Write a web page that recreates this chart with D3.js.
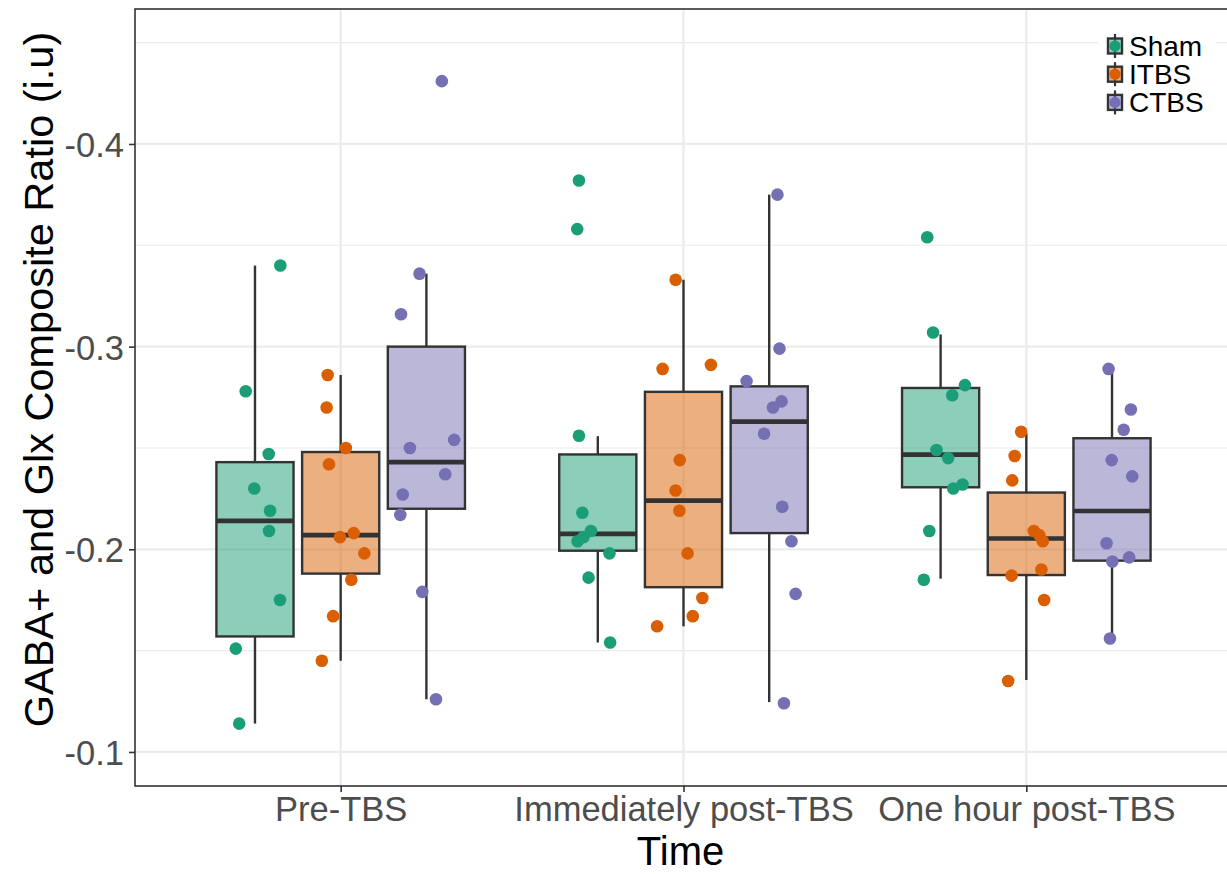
<!DOCTYPE html>
<html><head><meta charset="utf-8">
<script src="https://cdn.jsdelivr.net/npm/d3@7"></script>
<style>body{margin:0;background:#fff}svg{display:block}</style>
</head><body>
<svg id="chart" width="1227" height="874"></svg>
<script>
// ---- data ----
const categories = ["Pre-TBS", "Immediately post-TBS", "One hour post-TBS"];
const groups = ["Sham", "ITBS", "CTBS"];
const groupColors = ["#1B9E77", "#D95F02", "#7570B3"];
const yTickValues = [-0.4, -0.3, -0.2, -0.1];
const yTickLabels = ["-0.4", "-0.3", "-0.2", "-0.1"];
const yMinorValues = [-0.45, -0.35, -0.25, -0.15];

// box statistics per group, one entry per category
const shamWhiskerLow  = [-0.114, -0.154, -0.1855];
const shamQ1          = [-0.157, -0.1993, -0.2306];
const shamMedian      = [-0.214, -0.2076, -0.2467];
const shamQ3          = [-0.243, -0.2468, -0.2796];
const shamWhiskerHigh = [-0.340, -0.2558, -0.306];

const itbsWhiskerLow  = [-0.145, -0.162, -0.1355];
const itbsQ1          = [-0.188, -0.1813, -0.1873];
const itbsMedian      = [-0.207, -0.224, -0.2053];
const itbsQ3          = [-0.248, -0.2777, -0.228];
const itbsWhiskerHigh = [-0.286, -0.333, -0.2572];

const ctbsWhiskerLow  = [-0.126, -0.1246, -0.1559];
const ctbsQ1          = [-0.220, -0.208, -0.1944];
const ctbsMedian      = [-0.243, -0.263, -0.2189];
const ctbsQ3          = [-0.300, -0.2804, -0.2548];
const ctbsWhiskerHigh = [-0.336, -0.375, -0.2885];

// individual observations (value) and horizontal jitter (in category units)
const shamValues = [
  [-0.340, -0.278, -0.247, -0.230, -0.219, -0.209, -0.175, -0.151, -0.114],
  [-0.382, -0.358, -0.256, -0.218, -0.209, -0.206, -0.204, -0.198, -0.186, -0.154],
  [-0.354, -0.307, -0.281, -0.276, -0.249, -0.245, -0.232, -0.230, -0.209, -0.185]
];
const shamJitter = [
  [0.074, -0.027, 0.040, -0.002, 0.044, 0.041, 0.073, -0.056, -0.046],
  [-0.055, -0.060, -0.055, -0.045, -0.020, -0.042, -0.059, 0.034, -0.027, 0.036],
  [-0.039, -0.022, 0.071, 0.034, -0.012, 0.022, 0.064, 0.037, -0.033, -0.049]
];
const itbsValues = [
  [-0.286, -0.270, -0.250, -0.242, -0.208, -0.206, -0.198, -0.185, -0.167, -0.145],
  [-0.333, -0.289, -0.291, -0.244, -0.229, -0.219, -0.198, -0.176, -0.167, -0.162],
  [-0.258, -0.246, -0.234, -0.209, -0.207, -0.204, -0.190, -0.187, -0.175, -0.135]
];
const itbsJitter = [
  [-0.038, -0.041, 0.015, -0.034, 0.038, -0.002, 0.069, 0.031, -0.022, -0.055],
  [-0.023, -0.061, 0.080, -0.011, -0.023, -0.012, 0.012, 0.055, 0.027, -0.077],
  [-0.015, -0.034, -0.041, 0.022, 0.038, 0.048, 0.044, -0.043, 0.052, -0.053]
];
const ctbsValues = [
  [-0.431, -0.336, -0.316, -0.254, -0.250, -0.237, -0.227, -0.217, -0.179, -0.126],
  [-0.375, -0.299, -0.283, -0.273, -0.270, -0.257, -0.221, -0.204, -0.178, -0.124],
  [-0.289, -0.269, -0.259, -0.244, -0.236, -0.203, -0.196, -0.194, -0.156]
];
const ctbsJitter = [
  [0.045, -0.020, -0.074, 0.081, -0.048, 0.055, -0.069, -0.076, -0.012, 0.028],
  [0.024, 0.030, -0.066, 0.036, 0.011, -0.015, 0.038, 0.065, 0.077, 0.043],
  [-0.010, 0.055, 0.034, -0.001, 0.059, -0.016, 0.050, 0.001, -0.006]
];

// ---- build tables ----
const boxStats = [
  [shamWhiskerLow, shamQ1, shamMedian, shamQ3, shamWhiskerHigh],
  [itbsWhiskerLow, itbsQ1, itbsMedian, itbsQ3, itbsWhiskerHigh],
  [ctbsWhiskerLow, ctbsQ1, ctbsMedian, ctbsQ3, ctbsWhiskerHigh]
];
const allValues = [shamValues, itbsValues, ctbsValues];
const allJitter = [shamJitter, itbsJitter, ctbsJitter];

const boxes = [];
const points = [];
groups.forEach((g, gi) => {
  categories.forEach((c, ci) => {
    const s = boxStats[gi];
    boxes.push({group: g, gi, cat: c, lo: s[0][ci], q1: s[1][ci], med: s[2][ci], q3: s[3][ci], hi: s[4][ci]});
    allValues[gi][ci].forEach((v, k) => {
      points.push({group: g, gi, cat: c, value: v, jitter: allJitter[gi][ci][k]});
    });
  });
});

// ---- layout ----
const panel = {left: 135, top: 9, right: 1232, bottom: 786};
const FONT = "'Liberation Sans', Arial, Helvetica, sans-serif";
const ink = "#333333";

const svg = d3.select("#chart");

const x = d3.scalePoint().domain(categories).range([panel.left, panel.right]).padding(0.6);
const step = x.step();
const xg = d3.scaleBand().domain(groups).range([-0.375 * step, 0.375 * step]);
const boxW = xg.bandwidth() * 0.9;
const y = d3.scaleLinear().domain([-0.0832, -0.4666]).range([panel.bottom, panel.top]);
const color = d3.scaleOrdinal().domain(groups).range(groupColors);

// grid
const grid = svg.append("g");
grid.selectAll("line.minor").data(yMinorValues).join("line")
  .attr("x1", panel.left).attr("x2", panel.right)
  .attr("y1", d => y(d)).attr("y2", d => y(d))
  .attr("stroke", "#ebebeb").attr("stroke-width", 1.1);
grid.selectAll("line.major").data(yTickValues).join("line")
  .attr("x1", panel.left).attr("x2", panel.right)
  .attr("y1", d => y(d)).attr("y2", d => y(d))
  .attr("stroke", "#ebebeb").attr("stroke-width", 2.2);
grid.selectAll("line.vmajor").data(categories).join("line")
  .attr("x1", d => x(d)).attr("x2", d => x(d))
  .attr("y1", panel.top).attr("y2", panel.bottom)
  .attr("stroke", "#ebebeb").attr("stroke-width", 2.2);

// boxes
const bx = d => x(d.cat) + xg(d.group) + xg.bandwidth() / 2;
const bg = svg.append("g");
const bsel = bg.selectAll("g.box").data(boxes).join("g");
bsel.append("line")
  .attr("x1", bx).attr("x2", bx)
  .attr("y1", d => y(d.hi)).attr("y2", d => y(d.q3))
  .attr("stroke", ink).attr("stroke-width", 2.4);
bsel.append("line")
  .attr("x1", bx).attr("x2", bx)
  .attr("y1", d => y(d.q1)).attr("y2", d => y(d.lo))
  .attr("stroke", ink).attr("stroke-width", 2.4);
bsel.append("rect")
  .attr("x", d => bx(d) - boxW / 2).attr("width", boxW)
  .attr("y", d => y(d.q3)).attr("height", d => y(d.q1) - y(d.q3))
  .attr("fill", d => color(d.group)).attr("fill-opacity", 0.5)
  .attr("stroke", ink).attr("stroke-width", 2.4);
bsel.append("line")
  .attr("x1", d => bx(d) - boxW / 2).attr("x2", d => bx(d) + boxW / 2)
  .attr("y1", d => y(d.med)).attr("y2", d => y(d.med))
  .attr("stroke", ink).attr("stroke-width", 4.6);

// points
svg.append("g").selectAll("circle").data(points).join("circle")
  .attr("cx", d => x(d.cat) + xg(d.group) + xg.bandwidth() / 2 + d.jitter * step)
  .attr("cy", d => y(d.value))
  .attr("r", 6.3)
  .attr("fill", d => color(d.group));

// panel border
svg.append("rect")
  .attr("x", panel.left).attr("y", panel.top)
  .attr("width", panel.right - panel.left).attr("height", panel.bottom - panel.top)
  .attr("fill", "none").attr("stroke", ink).attr("stroke-width", 1.6);

// y axis
const yAxis = svg.append("g").attr("transform", `translate(${panel.left},0)`)
  .call(d3.axisLeft(y).tickValues(yTickValues).tickFormat((d, i) => yTickLabels[i]).tickSize(6).tickPadding(5));
yAxis.select(".domain").remove();
yAxis.selectAll(".tick line").attr("stroke", ink).attr("stroke-width", 1.6);
yAxis.selectAll(".tick text").attr("fill", "#4d4d4d").attr("font-size", 34.5).attr("font-family", FONT)
  .attr("dy", "0.36em");

// x axis
const xAxis = svg.append("g").attr("transform", `translate(0,${panel.bottom})`)
  .call(d3.axisBottom(x).tickSize(6).tickPadding(3));
xAxis.select(".domain").remove();
xAxis.selectAll(".tick line").attr("stroke", ink).attr("stroke-width", 1.6);
xAxis.selectAll(".tick text").attr("fill", "#4d4d4d").attr("font-size", 34.5).attr("font-family", FONT)
  .attr("dy", "0.76em");

// axis titles
svg.append("text").attr("x", (panel.left + panel.right) / 2 - 3).attr("y", 865)
  .attr("text-anchor", "middle").attr("font-size", 40).attr("font-family", FONT).attr("fill", "#000")
  .text("Time");
svg.append("text")
  .attr("transform", `translate(53,${(panel.top + panel.bottom) / 2 - 18}) rotate(-90)`)
  .attr("text-anchor", "middle").attr("font-size", 41.5).attr("font-family", FONT).attr("fill", "#000")
  .text("GABA+ and Glx Composite Ratio (i.u)");

// legend
const leg = svg.append("g");
leg.append("rect").attr("x", 1098).attr("y", 28).attr("width", 118).attr("height", 92).attr("fill", "#fff");
const rows = leg.selectAll("g.row").data(groups).join("g")
  .attr("transform", (d, i) => `translate(1115,${46 + 28.2 * i})`);
rows.append("line").attr("x1", 0).attr("x2", 0).attr("y1", -12).attr("y2", 12)
  .attr("stroke", ink).attr("stroke-width", 2.2);
rows.append("rect").attr("x", -7).attr("y", -7.5).attr("width", 14).attr("height", 15)
  .attr("fill", d => color(d)).attr("fill-opacity", 0.5).attr("stroke", ink).attr("stroke-width", 2.4);
rows.append("circle").attr("r", 5.6).attr("fill", d => color(d));
rows.append("text").attr("x", 14).attr("dy", "0.36em")
  .attr("font-size", 28).attr("font-family", FONT).attr("fill", "#000")
  .text(d => d);
</script>
</body></html>
